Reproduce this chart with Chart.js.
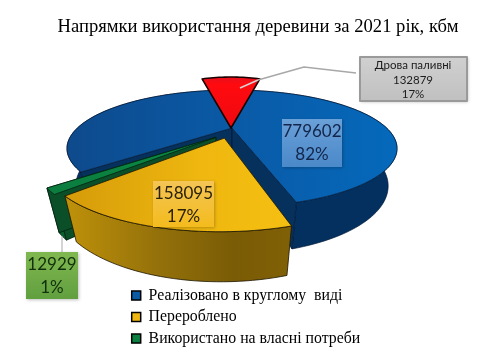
<!DOCTYPE html>
<html><head><meta charset="utf-8">
<style>html,body{margin:0;padding:0;background:#fff}canvas{display:block}</style>
<script src="https://cdn.jsdelivr.net/npm/chart.js@4"></script>
</head><body><canvas id="c" width="480" height="360"></canvas>
<script>
const titleText = 'Напрямки використання деревини за 2021 рік, кбм';
const categories = ['Реалізовано в круглому  виді', 'Перероблено', 'Використано на власні потреби'];
const values = [779602, 158095, 12929];
const percentLabels = ['82%', '17%', '1%'];
const fuelName = 'Дрова паливні';
const fuelValue = 132879;
const fuelPercent = '17%';

const sum = values[0] + values[1] + values[2];
// projection of the tilted disc
const P = {X:232, Y:128, A:154.6, B:51.3, C:37, p:0.35, q:0.05};
function proj(u, v, h){
  const d = 1 - P.p*v + P.q*h;
  return [P.X + P.A*u/d, P.Y + (P.B*v + P.C*h)/d];
}
const explode = [[0,0],[-0.046,0.184],[-0.098,0.17]];
function poly(ctx, pts){
  ctx.beginPath();
  pts.forEach((p,i)=> i ? ctx.lineTo(p[0],p[1]) : ctx.moveTo(p[0],p[1]));
  ctx.closePath();
}
function hGrad(ctx, x0, x1, stops){
  const g = ctx.createLinearGradient(x0,0,x1,0);
  stops.forEach(s=>g.addColorStop(s[0],s[1]));
  return g;
}
const looks = [
  {top:[[0,'#0e4a8c'],[0.5,'#0a5aa6'],[1,'#0569bb']], wall:[[0,'#03305f'],[1,'#03305f']], face:'#05315c', x0:67, x1:398, line:'rgba(0,20,50,0.8)', faces:true},
  {top:[[0,'#d69c0a'],[0.6,'#efb70f'],[1,'#f5bf12']], wall:[[0,'#bd900a'],[0.4,'#94710a'],[0.75,'#7a5c06'],[1,'#806006']], face:'#8a6806', x0:70, x1:288, line:'#1c1400', faces:false},
  {top:[[0,'#0b7d3e'],[1,'#0b8a44']], wall:[[0,'#09602f'],[1,'#09602f']], face:'#0a4f28', x0:47, x1:225, line:'#03210f', faces:true}
];
function drawSlice(ctx, arc, i){
  const off = explode[i], L = looks[i];
  const n = Math.max(8, Math.ceil((arc.endAngle-arc.startAngle)/0.03));
  const top=[], bot=[];
  for(let k=0;k<=n;k++){
    const a = arc.startAngle + (arc.endAngle-arc.startAngle)*k/n;
    const u = Math.cos(a)+off[0], v = Math.sin(a)+off[1];
    top.push(proj(u,v,0)); bot.push(proj(u,v,1));
  }
  const at = proj(off[0],off[1],0), ab = proj(off[0],off[1],1);
  ctx.lineJoin='round';
  ctx.lineWidth=0.8; ctx.strokeStyle=L.line;
  // outer wall
  poly(ctx, top.concat(bot.slice().reverse()));
  ctx.fillStyle=hGrad(ctx,L.x0,L.x1,L.wall); ctx.fill(); ctx.stroke();
  // radial faces
  if(L.faces){
    [[at,top[0],bot[0],ab],[at,top[n],bot[n],ab]].forEach(q=>{
      poly(ctx,q); ctx.fillStyle=L.face; ctx.fill(); ctx.stroke();
    });
  }
  // top face
  poly(ctx,[at].concat(top));
  ctx.fillStyle=hGrad(ctx,L.x0,L.x1,L.top); ctx.fill(); ctx.stroke();
}
function drawFuelWedge(ctx, arc){
  const pts=[[231,128]];
  const n=20;
  for(let k=0;k<=n;k++){
    const a=arc.startAngle+(arc.endAngle-arc.startAngle)*k/n;
    pts.push([231+68*Math.cos(a), 128+51*(0.4*Math.sin(a)-0.6)]);
  }
  poly(ctx,pts);
  const g=ctx.createLinearGradient(0,77,0,128);
  g.addColorStop(0,'#e8101c');g.addColorStop(0.15,'#ff0a0f');g.addColorStop(1,'#ee0a10');
  ctx.fillStyle=g;ctx.fill();
  ctx.lineJoin='round';ctx.lineWidth=1.6;ctx.strokeStyle='#1a0000';ctx.stroke();
}
function box(ctx,x,y,w,h,c0,c1,border){
  ctx.save();
  ctx.shadowColor='rgba(0,0,0,0.25)';ctx.shadowBlur=3;ctx.shadowOffsetX=1;ctx.shadowOffsetY=1;
  const g=ctx.createLinearGradient(0,y,0,y+h);
  g.addColorStop(0,c0);g.addColorStop(1,c1);
  ctx.fillStyle=g;ctx.fillRect(x,y,w,h);
  ctx.restore();
  if(border){ctx.lineWidth=2;ctx.strokeStyle=border;ctx.strokeRect(x,y,w,h);}
}
function texts(ctx,cx,ys,lines,font,color){
  ctx.font=font;ctx.fillStyle=color;ctx.textAlign='center';ctx.textBaseline='middle';
  lines.forEach((t,i)=>ctx.fillText(t,cx,ys[i]));
}
const pie3d = {
  id:'pie3d',
  afterLayout(chart){
    const t=chart.titleBlock; t.left=18; t.right=498; t.top=16; t.bottom=38;
    const l=chart.legend; l.left=126; l.right=474; l.top=282; l.bottom=600;
  },
  beforeDatasetsDraw(chart){
    const ctx=chart.ctx;
    const arcs=chart.getDatasetMeta(0).data;
    ctx.save();
    drawSlice(ctx,arcs[0],0);
    drawSlice(ctx,arcs[2],2);
    drawSlice(ctx,arcs[1],1);
    const fuelArc=chart.getDatasetMeta(1).data[0];
    drawFuelWedge(ctx,fuelArc);
    ctx.lineWidth=1.5;
    ctx.strokeStyle='#d8d0d0';
    ctx.beginPath();ctx.moveTo(240,88);ctx.lineTo(258,80);ctx.stroke();
    ctx.strokeStyle='#a8a8a8';
    ctx.beginPath();ctx.moveTo(258,80);ctx.lineTo(304,67);ctx.lineTo(356,73);ctx.stroke();
    ctx.lineWidth=1;
    ctx.beginPath();ctx.moveTo(62,236);ctx.lineTo(62,252);ctx.stroke();
    // data label boxes
    box(ctx,282,119,60,48,'rgba(112,165,220,0.95)','rgba(78,140,205,0.95)');
    texts(ctx,312,[132,155],[String(values[0]),percentLabels[0]],'17px Lato','#13254a');
    box(ctx,153,181,61,46,'rgba(247,200,90,0.95)','rgba(247,190,30,0.95)');
    texts(ctx,183.5,[194,217],[String(values[1]),percentLabels[1]],'17px Lato','#2b2108');
    box(ctx,26,252,52,47,'#80b850','#619f3f');
    texts(ctx,52,[265,288],[String(values[2]),percentLabels[2]],'17px Lato','#12300c');
    box(ctx,360,57,107,44,'#d0d0d0','#c0c0c0','#9a9a9a');
    texts(ctx,413,[65,80,94],[fuelName,String(fuelValue),fuelPercent],'11.5px Lato','#1c1c1c');
    ctx.restore();
    return false;
  }
};
new Chart(document.getElementById('c'),{
  type:'pie',
  data:{
    labels:categories,
    datasets:[
      {data:values, rotation:-131.3,
       backgroundColor:['#0a5aa6','#efb70f','#0b8040'], borderColor:'#000', borderWidth:1.5},
      {data:[fuelValue, sum-fuelValue], rotation:-25.15,
       backgroundColor:['#ee0a10','rgba(0,0,0,0)'], borderWidth:0}
    ]
  },
  options:{
    responsive:false, animation:false,
    layout:{padding:0},
    plugins:{
      title:{display:true,text:titleText,color:'#000',align:'center',
             font:{family:'"Liberation Serif"',size:18.6,weight:'normal'},padding:0},
      legend:{display:true,position:'left',align:'start',
        labels:{color:'#000',boxWidth:9,boxHeight:9,padding:5.7,
                font:{family:'"Liberation Serif"',size:15.8}}},
      tooltip:{enabled:false}
    }
  },
  plugins:[pie3d]
});
</script></body></html>
